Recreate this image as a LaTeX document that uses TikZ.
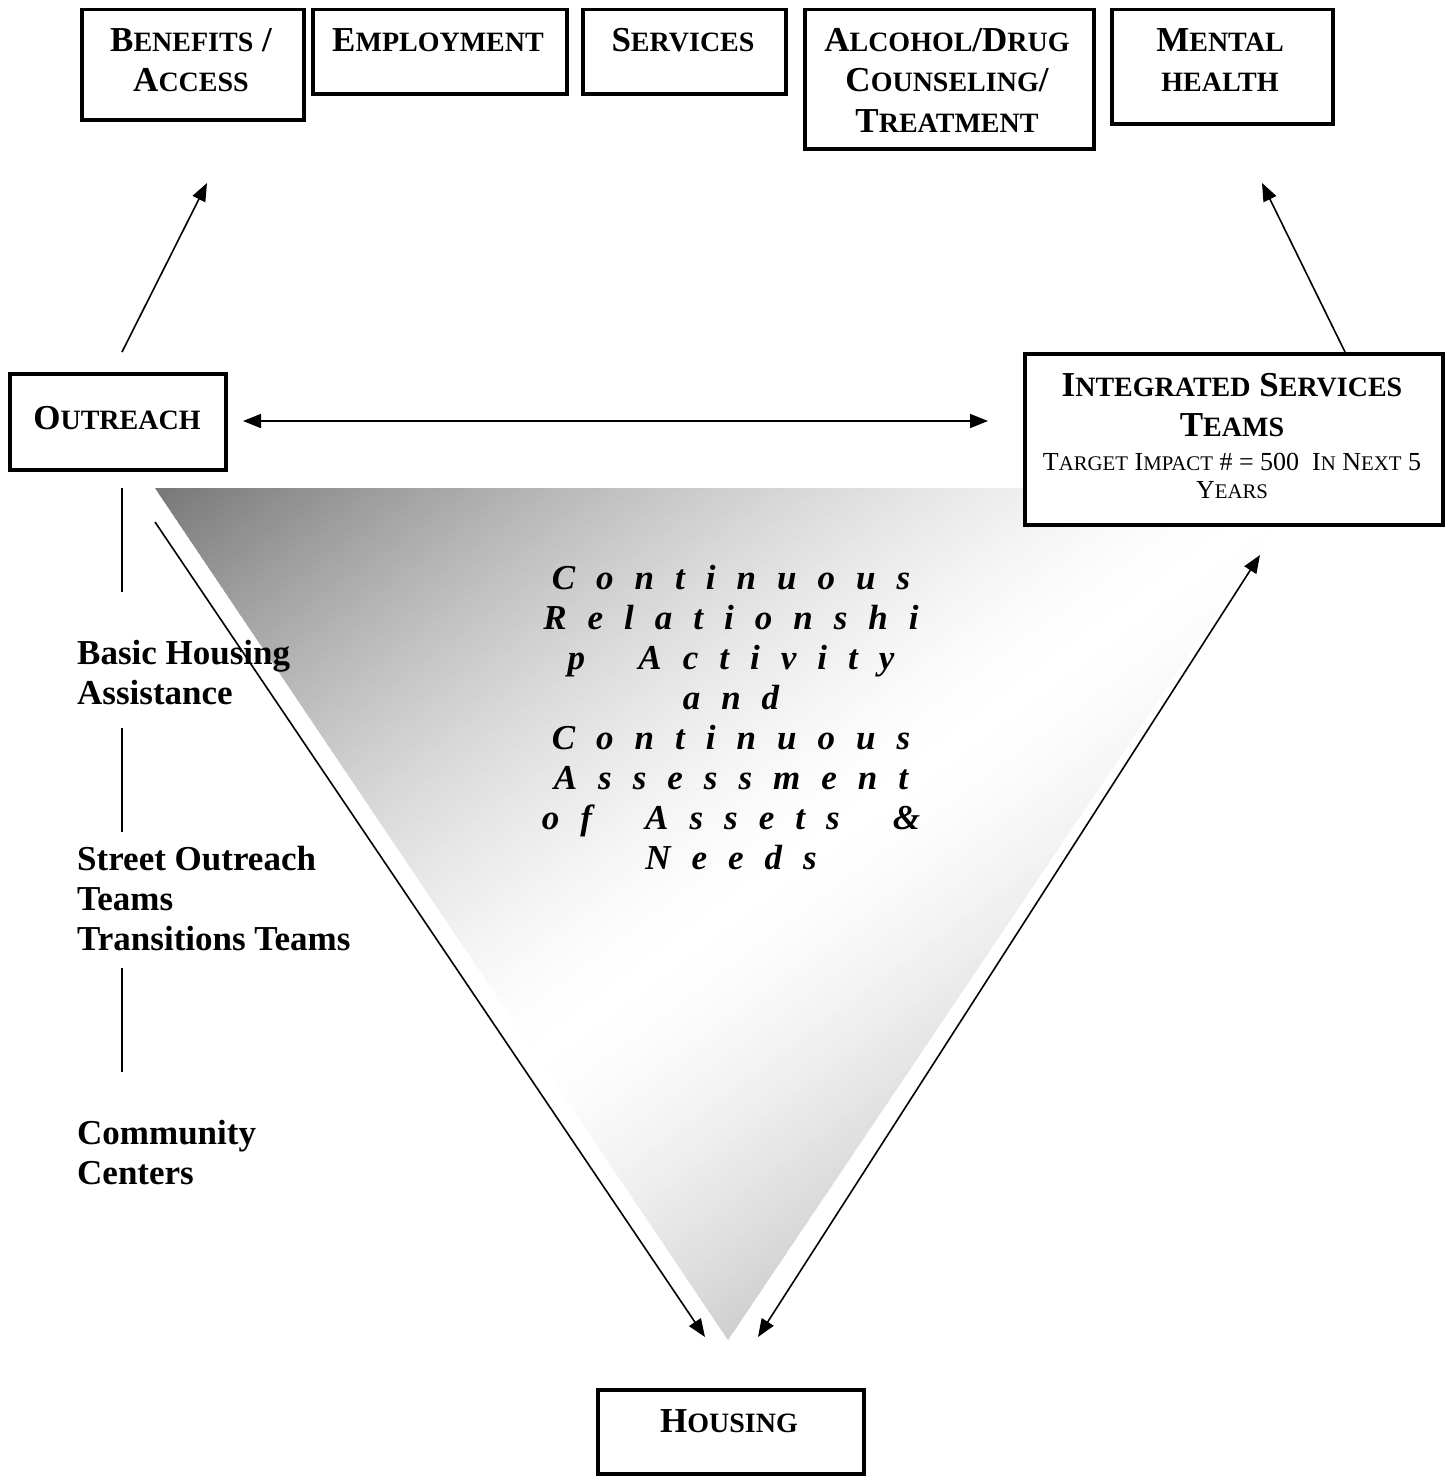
\documentclass[tikz,border=0pt]{standalone}
\usepackage{fontspec}
\setmainfont{Liberation Serif}
\newfontfamily\trifont[LetterSpace=60]{Liberation Serif}
\usetikzlibrary{arrows.meta}
\newcommand\sk[1]{{\fontsize{28}{28}\selectfont #1}}
\newcommand\sks[1]{{\fontsize{20.8}{20.8}\selectfont #1}}
\newcommand\tsp{\hspace{53.25pt}}
\begin{document}
\begin{tikzpicture}[x=1pt,y=-1pt,
  box/.style={draw, line width=3.5pt, fill=white, inner sep=0pt, anchor=north west},
  ttl/.style={font=\fontsize{35}{40}\selectfont\bfseries, anchor=base, inner sep=0pt},
  sub/.style={font=\fontsize{26}{28}\selectfont, anchor=base, inner sep=0pt},
  lft/.style={font=\fontsize{35}{40}\selectfont\bfseries, anchor=base west, inner sep=0pt},
  tri/.style={font=\trifont\bfseries\itshape\fontsize{35}{40}\selectfont, anchor=base, inner sep=0pt},
  conn/.style={line width=1.6pt},
  tip/.tip={Triangle[length=18pt,width=14pt]},
  arr/.style={conn, -tip},
  darr/.style={conn, tip-tip}]
\useasboundingbox (0,0) rectangle (1445,1480);
% shaded triangle (mirrored diagonal gradient: dark corner, white middle, grey tip)
\begin{scope}
  \clip (155,488) -- (1301,488) -- (728,1340) -- cycle;
  \foreach \s in {0,0.01,...,1.5}{
    \pgfmathsetmacro\sp{min(\s+0.005,1.995-\s)}
    \pgfmathsetmacro\sq{min(\sp,0.995)}
    \pgfmathsetmacro\gv{(119+136*(1-(1-\sq)^1.5))/255}
    \definecolor{tc}{gray}{\gv}
    \pgfmathsetmacro\xa{155+1146*\s}
    \pgfmathsetmacro\xb{155+1146*(\s+0.016)}
    \pgfmathsetmacro\xc{155+1146*(\s+0.016-1)}
    \pgfmathsetmacro\xd{155+1146*(\s-1)}
    \fill[tc] (\xa,488) -- (\xb,488) -- (\xc,1340) -- (\xd,1340) -- cycle;
  }
\end{scope}
% triangle text
\node[tri] (tl1) at (731,589) {Continuous};
\node[tri] (tl2) at (731,629) {Relationshi};
\node[tri] (tl3) at (731,669) {p\tsp Activity};
\node[tri] (tl4) at (731,709) {and};
\node[tri] (tl5) at (731,749) {Continuous};
\node[tri] (tl6) at (731,789) {Assessment};
\node[tri] (tl7) at (731,829) {of\tsp Assets\tsp \&};
\node[tri] (tl8) at (731,869) {Needs};
% left column texts
\node[lft] (bh1) at (77,664) {Basic Housing};
\node[lft] (bh2) at (77,704) {Assistance};
\node[lft] (so1) at (77,870) {Street Outreach};
\node[lft] (so2) at (77,910) {Teams};
\node[lft] (so3) at (77,950) {Transitions Teams};
\node[lft] (cc1) at (77,1144) {Community};
\node[lft] (cc2) at (77,1184) {Centers};
% boxes
\node[box, minimum width=222pt, minimum height=110pt] (ben) at (80,8) {};
\node[box, minimum width=254pt, minimum height=84pt] (emp) at (311,8) {};
\node[box, minimum width=203pt, minimum height=84pt] (srv) at (581,8) {};
\node[box, minimum width=289pt, minimum height=139pt] (alc) at (803,8) {};
\node[box, minimum width=221pt, minimum height=114pt] (men) at (1110,8) {};
\node[box, minimum width=216pt, minimum height=96pt] (out) at (8,372) {};
\node[box, minimum width=418pt, minimum height=171pt] (ist) at (1023,352) {};
\node[box, minimum width=266pt, minimum height=84pt] (hou) at (596,1388) {};
% box texts
\node[ttl] (tben1) at (191,52) {B\sk{ENEFITS} /};
\node[ttl] (tben2) at (191,92) {A\sk{CCESS}};
\node[ttl] (temp) at (438,52) {E\sk{MPLOYMENT}};
\node[ttl] (tsrv) at (683,52) {S\sk{ERVICES}};
\node[ttl] (talc1) at (947,52) {A\sk{LCOHOL}/D\sk{RUG}};
\node[ttl] (talc2) at (947,92) {C\sk{OUNSELING}/};
\node[ttl] (talc3) at (947,132) {T\sk{REATMENT}};
\node[ttl] (tmen1) at (1220,52) {M\sk{ENTAL}};
\node[ttl] (tmen2) at (1220,92) {\sk{HEALTH}};
\node[ttl] (tout) at (117,429) {O\sk{UTREACH}};
\node[ttl] (tist1) at (1232,396) {I\sk{NTEGRATED} S\sk{ERVICES}};
\node[ttl] (tist2) at (1232,436) {T\sk{EAMS}};
\node[sub] (tist3) at (1232,470) {T\sks{ARGET} I\sks{MPACT} \# = 500\ \ I\sks{N} N\sks{EXT} 5};
\node[sub] (tist4) at (1232,498) {Y\sks{EARS}};
\node[ttl] (thou) at (729,1432) {H\sk{OUSING}};
% connector end points
\coordinate (a1s) at (122,352);
\coordinate (a1e) at (207,183);
\coordinate (a2s) at (1345,352);
\coordinate (a2e) at (1262,183);
\coordinate (h1) at (243,421);
\coordinate (h2) at (988,421);
\coordinate (ls) at (155,522);
\coordinate (le) at (705,1337);
\coordinate (rs) at (758,1337);
\coordinate (re) at (1260,555);
\coordinate (v1a) at (122,488); \coordinate (v1b) at (122,592);
\coordinate (v2a) at (122,728); \coordinate (v2b) at (122,832);
\coordinate (v3a) at (122,968); \coordinate (v3b) at (122,1072);
% connectors
\draw[arr] (a1s) -- (a1e);
\draw[arr] (a2s) -- (a2e);
\draw[darr] (h1) -- (h2);
\draw[arr] (ls) -- (le);
\draw[darr] (rs) -- (re);
\draw[conn] (v1a) -- (v1b);
\draw[conn] (v2a) -- (v2b);
\draw[conn] (v3a) -- (v3b);
\end{tikzpicture}
\end{document}
